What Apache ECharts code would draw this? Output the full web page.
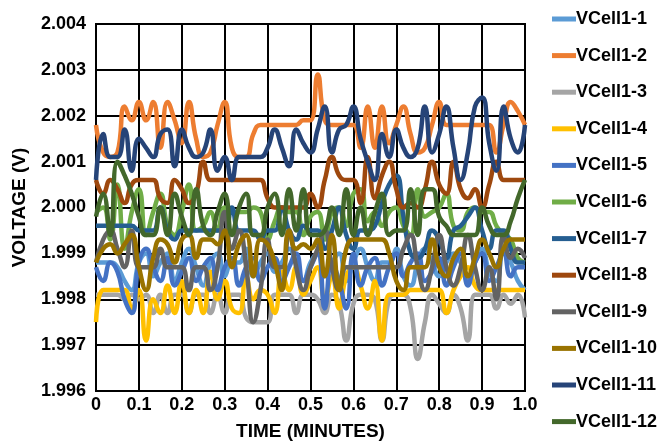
<!DOCTYPE html>
<html>
<head>
<meta charset="utf-8">
<script src="https://cdn.jsdelivr.net/npm/echarts@6/dist/echarts.min.js"></script>
<style>
  html, body { margin: 0; padding: 0; background: #fff; }
  #chart { width: 657px; height: 446px; }
</style>
</head>
<body>
<div id="chart"></div>
<script>
// sample times (minutes), one every second
const times = Array.from({ length: 61 }, (_, i) => i / 60);

const xTicks = ['0', '0.1', '0.2', '0.3', '0.4', '0.5', '0.6', '0.7', '0.8', '0.9', '1.0'];

const names = ['VCell1-1', 'VCell1-2', 'VCell1-3', 'VCell1-4', 'VCell1-5', 'VCell1-6',
  'VCell1-7', 'VCell1-8', 'VCell1-9', 'VCell1-10', 'VCell1-11', 'VCell1-12'];

const colors = ['#5B9BD5', '#ED7D31', '#A5A5A5', '#FFC000', '#4472C4', '#70AD47',
  '#255E91', '#9E480E', '#636363', '#997300', '#264478', '#43682B'];

// (V)
const vcell1 = [1.9988,1.9988,1.9988,1.9987,1.9984,1.9982,1.9988,1.9990,1.9985,1.9988,1.9990,1.9984,1.9988,1.9991,1.9987,1.9983,1.9988,1.9990,1.9985,1.9988,1.9988,1.9991,1.9985,1.9988,1.9990,1.9986,1.9988,1.9991,1.9988,1.9984,1.9988,1.9990,1.9985,1.9988,1.9990,1.9984,1.9988,1.9991,1.9987,1.9984,1.9988,1.9988,1.9991,1.9985,1.9983,1.9988,1.9991,1.9988,1.9985,1.9988,1.9990,1.9988,1.9984,1.9988,1.9991,1.9986,1.9984,1.9990,1.9988,1.9984,1.9982];
const vcell2 = [2.0018,2.0012,2.0011,2.0012,2.0022,2.0019,2.0023,2.0019,2.0023,2.0013,2.0023,2.0019,2.0014,2.0023,2.0015,2.0011,2.0012,2.0018,2.0023,2.0013,2.0011,2.0011,2.0016,2.0018,2.0018,2.0018,2.0018,2.0018,2.0018,2.0019,2.0019,2.0029,2.0019,2.0018,2.0018,2.0018,2.0018,2.0013,2.0022,2.0013,2.0022,2.0014,2.0018,2.0022,2.0016,2.0012,2.0013,2.0018,2.0023,2.0018,2.0018,2.0018,2.0018,2.0018,2.0018,2.0018,2.0012,2.0018,2.0023,2.0021,2.0018];
const vcell3 = [1.9981,1.9981,1.9981,1.9981,1.9980,1.9981,1.9980,1.9981,1.9977,1.9981,1.9977,1.9981,1.9981,1.9977,1.9981,1.9981,1.9977,1.9981,1.9977,1.9981,1.9981,1.9976,1.9975,1.9975,1.9975,1.9981,1.9981,1.9981,1.9977,1.9981,1.9981,1.9980,1.9977,1.9981,1.9979,1.9971,1.9979,1.9981,1.9981,1.9980,1.9971,1.9980,1.9981,1.9981,1.9978,1.9967,1.9975,1.9981,1.9979,1.9977,1.9981,1.9978,1.9971,1.9981,1.9981,1.9981,1.9978,1.9981,1.9979,1.9981,1.9976];
const vcell4 = [1.9975,1.9982,1.9982,1.9982,1.9982,1.9978,1.9982,1.9971,1.9980,1.9977,1.9983,1.9977,1.9984,1.9977,1.9982,1.9977,1.9986,1.9980,1.9984,1.9978,1.9977,1.9985,1.9980,1.9982,1.9981,1.9977,1.9986,1.9982,1.9987,1.9981,1.9984,1.9987,1.9980,1.9985,1.9978,1.9985,1.9987,1.9983,1.9978,1.9984,1.9971,1.9981,1.9981,1.9981,1.9982,1.9982,1.9982,1.9982,1.9982,1.9977,1.9982,1.9985,1.9987,1.9983,1.9982,1.9982,1.9982,1.9982,1.9982,1.9982,1.9982];
const vcell5 = [1.9987,1.9984,1.9988,1.9986,1.9980,1.9977,1.9988,1.9991,1.9987,1.9984,1.9989,1.9983,1.9986,1.9989,1.9984,1.9987,1.9989,1.9982,1.9987,1.9989,1.9983,1.9987,1.9989,1.9984,1.9987,1.9989,1.9984,1.9987,1.9990,1.9984,1.9987,1.9990,1.9978,1.9988,1.9984,1.9978,1.9990,1.9983,1.9987,1.9989,1.9983,1.9987,1.9990,1.9985,1.9988,1.9990,1.9984,1.9986,1.9989,1.9983,1.9987,1.9990,1.9983,1.9988,1.9990,1.9984,1.9987,1.9990,1.9985,1.9987,1.9987];
const vcell6 = [1.9999,2.0000,1.9993,2.0005,1.9991,1.9999,2.0004,1.9994,1.9999,2.0003,1.9996,1.9994,1.9999,2.0005,1.9995,1.9996,1.9999,1.9995,2.0000,1.9999,1.9999,1.9999,2.0000,1.9999,1.9993,1.9997,2.0000,1.9999,1.9999,1.9994,1.9998,1.9999,1.9993,1.9999,2.0000,1.9996,2.0003,2.0004,1.9997,1.9999,1.9996,1.9999,2.0000,1.9996,1.9994,2.0004,1.9998,1.9999,2.0000,2.0003,1.9996,1.9995,1.9999,2.0000,1.9999,1.9999,1.9996,1.9994,1.9993,1.9989,1.9988];
const vcell7 = [1.9996,1.9996,1.9996,1.9996,1.9996,1.9996,1.9995,1.9995,1.9995,2.0000,1.9995,1.9993,1.9995,1.9995,1.9995,1.9995,1.9995,1.9995,1.9995,2.0000,1.9995,1.9995,1.9995,1.9993,1.9995,1.9995,2.0000,1.9995,1.9993,1.9996,1.9995,1.9995,1.9991,1.9995,2.0000,1.9994,1.9991,1.9995,1.9995,1.9996,2.0001,2.0005,2.0007,1.9998,1.9990,1.9989,1.9991,1.9995,1.9993,1.9989,1.9995,1.9996,1.9998,2.0000,1.9995,1.9991,1.9995,1.9995,1.9991,1.9988,1.9988];
const vcell8 = [2.0006,2.0003,2.0006,2.0004,2.0001,2.0005,2.0006,2.0006,2.0006,2.0002,2.0001,2.0006,2.0004,2.0001,2.0003,2.0010,2.0006,2.0006,2.0006,2.0006,2.0006,2.0006,2.0006,2.0006,2.0002,2.0000,2.0000,2.0000,2.0000,2.0000,2.0003,2.0000,2.0006,2.0011,2.0007,2.0006,2.0006,2.0001,2.0011,2.0002,2.0007,2.0010,2.0004,2.0000,2.0001,2.0000,2.0004,2.0010,2.0005,2.0003,2.0010,2.0004,2.0002,2.0004,2.0000,2.0005,2.0010,2.0006,2.0006,2.0006,2.0006];
const vcell9 = [1.9988,1.9993,1.9995,1.9991,1.9987,1.9995,1.9987,1.9987,1.9987,1.9991,1.9987,1.9987,1.9987,1.9982,1.9987,1.9987,1.9982,1.9987,1.9999,1.9991,1.9995,1.9987,1.9975,1.9982,1.9993,1.9987,1.9987,1.9995,1.9987,1.9982,1.9987,1.9991,1.9995,1.9987,1.9982,1.9987,1.9987,1.9987,1.9987,1.9987,1.9987,1.9987,1.9987,1.9991,1.9994,1.9987,1.9982,1.9987,1.9994,1.9987,1.9983,1.9987,1.9994,1.9987,1.9982,1.9987,1.9980,1.9994,1.9989,1.9991,1.9989];
const vcell10 = [1.9988,1.9991,1.9992,1.9990,1.9992,1.9994,1.9987,1.9982,1.9989,1.9993,1.9992,1.9988,1.9993,1.9994,1.9989,1.9993,1.9993,1.9992,1.9995,1.9987,1.9992,1.9994,1.9985,1.9993,1.9992,1.9988,1.9982,1.9995,1.9991,1.9992,1.9991,1.9993,1.9985,1.9994,1.9982,1.9991,1.9993,1.9993,1.9993,1.9993,1.9993,1.9990,1.9984,1.9982,1.9987,1.9987,1.9987,1.9993,1.9987,1.9985,1.9989,1.9991,1.9985,1.9989,1.9993,1.9990,1.9987,1.9991,1.9993,1.9993,1.9993];
const vcell11 = [2.0006,2.0016,2.0011,2.0011,2.0017,2.0008,2.0015,2.0013,2.0011,2.0016,2.0017,2.0009,2.0017,2.0013,2.0011,2.0012,2.0017,2.0008,2.0011,2.0006,2.0011,2.0011,2.0011,2.0011,2.0013,2.0017,2.0013,2.0009,2.0017,2.0014,2.0012,2.0017,2.0022,2.0012,2.0017,2.0018,2.0022,2.0015,2.0010,2.0006,2.0016,2.0011,2.0017,2.0013,2.0011,2.0013,2.0022,2.0012,2.0016,2.0022,2.0013,2.0006,2.0012,2.0022,2.0024,2.0014,2.0008,2.0022,2.0015,2.0012,2.0018];
const vcell12 = [1.9998,2.0003,1.9994,2.0010,2.0007,2.0003,1.9998,1.9994,1.9994,2.0000,1.9994,2.0003,1.9998,1.9994,2.0004,1.9996,1.9994,1.9999,2.0003,1.9994,2.0000,2.0003,1.9994,1.9994,2.0000,2.0003,1.9994,2.0004,1.9995,2.0004,1.9994,1.9994,1.9995,2.0000,1.9994,2.0004,1.9994,2.0000,1.9994,1.9999,2.0003,1.9994,1.9995,1.9995,2.0004,1.9994,2.0004,2.0004,1.9998,1.9996,1.9994,1.9994,1.9994,1.9994,2.0000,1.9996,1.9994,1.9994,1.9997,2.0002,2.0006];

const cells = [vcell1, vcell2, vcell3, vcell4, vcell5, vcell6, vcell7, vcell8, vcell9, vcell10, vcell11, vcell12];

const font = 'Liberation Sans, Arial, sans-serif';

let chartDom = document.getElementById('chart');
let myChart = echarts.init(chartDom);

let option = {
  animation: false,
  color: colors,
  grid: {
    left: 96,
    right: 132,
    top: 24,
    bottom: 53,
    show: true,
    borderColor: '#000',
    borderWidth: 2
  },
  legend: {
    orient: 'vertical',
    left: 547,
    top: 5,
    itemWidth: 24,
    itemHeight: 5,
    itemGap: 18.6,
    icon: 'rect',
    data: names,
    textStyle: { fontFamily: font, fontWeight: 'bold', fontSize: 18, color: '#000', padding: [0, 0, 0, -5] }
  },
  xAxis: {
    type: 'value',
    min: 0,
    max: 1,
    interval: 0.1,
    name: 'TIME (MINUTES)',
    nameLocation: 'middle',
    nameGap: 31,
    nameTextStyle: { fontFamily: font, fontWeight: 'bold', fontSize: 19, color: '#000' },
    axisLine: { lineStyle: { color: '#000', width: 2 } },
    axisTick: { show: false },
    splitLine: { lineStyle: { color: '#000', width: 2 } },
    axisLabel: {
      fontFamily: font, fontWeight: 'bold', fontSize: 18, color: '#000', margin: 5,
      formatter: v => xTicks[Math.round(v * 10)]
    }
  },
  yAxis: {
    type: 'value',
    min: 1.996,
    max: 2.004,
    interval: 0.001,
    name: 'VOLTAGE (V)',
    nameLocation: 'middle',
    nameGap: 67,
    nameTextStyle: { fontFamily: font, fontWeight: 'bold', fontSize: 19, color: '#000' },
    axisLine: { show: true, lineStyle: { color: '#000', width: 2 } },
    axisTick: { show: false },
    splitLine: { lineStyle: { color: '#000', width: 2 } },
    axisLabel: {
      fontFamily: font, fontWeight: 'bold', fontSize: 18, color: '#000', margin: 10,
      formatter: v => v.toFixed(3)
    }
  },
  series: names.map((n, k) => ({
    name: n,
    type: 'line',
    smooth: 0.5,
    symbol: 'none',
    lineStyle: { width: 4.5 },
    data: times.map((t, i) => [t, cells[k][i]])
  }))
};

myChart.setOption(option);
</script>
</body>
</html>
